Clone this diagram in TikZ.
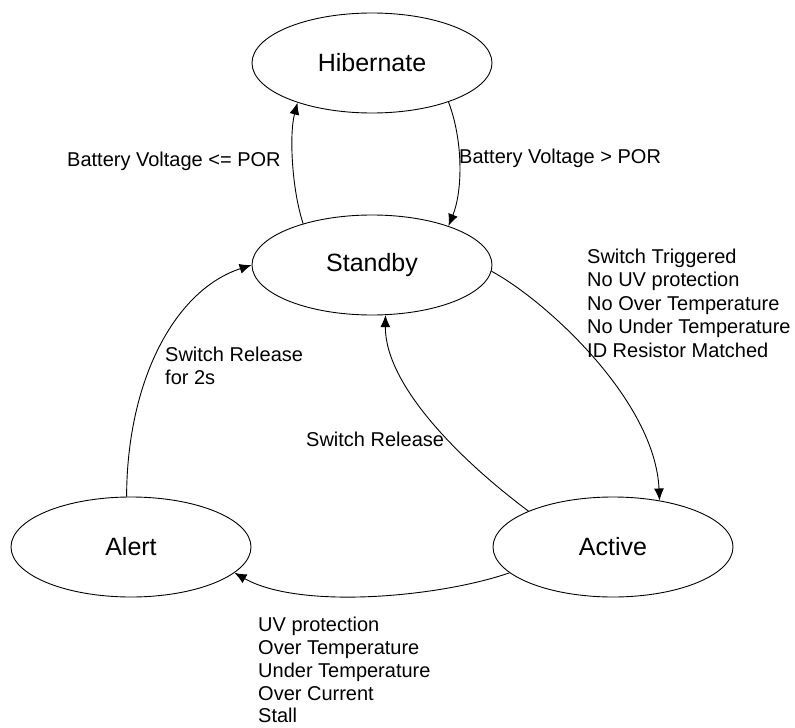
\documentclass[tikz,border=0pt]{standalone}
\usepackage{fontspec}
\setmainfont{Liberation Sans}
\usetikzlibrary{shapes.geometric,arrows.meta}
\begin{document}
\begin{tikzpicture}[x=1bp,y=-1bp,
  state/.style={ellipse,draw,line width=0.9bp,minimum width=240bp,minimum height=100bp,inner sep=0pt,font=\fontsize{25bp}{30bp}\selectfont},
  trans/.style={line width=0.9bp,-{Latex[length=12bp,width=10bp]}},
  lbl/.style={inner sep=0pt,align=left,font=\fontsize{20bp}{23.6bp}\selectfont}]
\useasboundingbox (0,0) rectangle (795,728);
\fill[white] (0,0) rectangle (795,728);
\node[state] (hib) at (372,63) {Hibernate};
\node[state] (stb) at (372,265) {Standby};
\node[state] (alr) at (131,547) {Alert};
\node[state] (act) at (613,547) {Active};
% Standby -> Hibernate
\draw[trans] (stb.149) .. controls (292,190) and (289,135) .. (hib.208);
% Hibernate -> Standby
\draw[trans] (hib.-27) .. controls (463,140) and (463,190) .. (stb.27);
% Standby -> Active
\draw[trans] (stb.-3) .. controls (545,300) and (655,400) .. (act.45);
% Active -> Standby
\draw[trans] (act.157) .. controls (460,460) and (385,385) .. (stb.-75);
% Alert -> Standby
\draw[trans] (alr.95) .. controls (127,380) and (175,290) .. (stb.west);
% Active -> Alert
\draw[trans] (act.194.5) .. controls (440,597) and (300,610) .. (alr.-14.5);
% labels
\node[lbl,anchor=base west] (l1) at (67,166) {Battery Voltage <= POR};
\node[lbl,anchor=base west] (l2) at (459,163) {Battery Voltage > POR};
\node[lbl,anchor=north west] (l3) at (587,248.5) {Switch Triggered\\No UV protection\\No Over Temperature\\No Under Temperature\\ID Resistor Matched};
\node[lbl,anchor=base west] (l4) at (306,446) {Switch Release};
\node[lbl,anchor=north west] (l5) at (165,346.5) {Switch Release\\for 2s};
\node[lbl,anchor=north west,font=\fontsize{20bp}{22.8bp}\selectfont] (l6) at (258,617) {UV protection\\Over Temperature\\Under Temperature\\Over Current\\Stall};
\end{tikzpicture}
\end{document}
